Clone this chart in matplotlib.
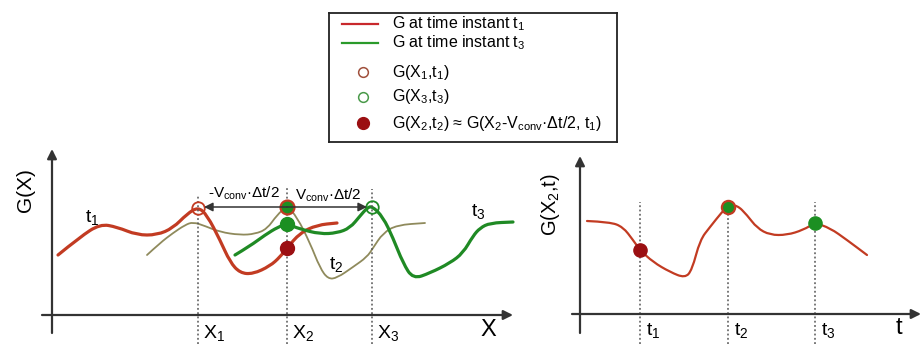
import matplotlib.pyplot as plt
from matplotlib.path import Path
from matplotlib.patches import PathPatch

plt.rcParams['font.family'] = ['Liberation Sans', 'DejaVu Sans']
plt.rcParams['mathtext.default'] = 'regular'

RED = '#c23b22'
GREEN = '#1f8a24'
OLIVE = '#8f8a5c'
DOT_RED = '#9b0f12'
DOT_GREEN = '#1c8f22'
AXIS = '#333333'

# G(X) snapshots, X measured from the axis origin
x_t1 = [6, 28, 48, 65, 85, 105, 121, 135, 146, 155, 168, 178, 188, 201, 218, 228, 235, 248, 265, 285]
g_t1 = [60, 78, 91, 88, 80, 80, 87, 101, 108, 100, 75, 53, 42, 41, 49, 58, 67, 82, 90, 92]

x_t2 = [95, 108, 121, 133, 141, 153, 168, 188, 203, 215, 225, 235, 245, 258, 268, 276, 285, 301, 315, 321, 331, 345, 373]
g_t2 = [60, 72, 82, 90, 93, 89, 83, 80, 81, 86, 100, 109, 98, 72, 47, 36, 37, 48, 58, 67, 82, 90, 92]

x_t3 = [183, 198, 213, 226, 235, 248, 268, 285, 298, 308, 315, 320, 331, 341, 351, 361, 378, 398, 411, 421, 428, 438, 461]
g_t3 = [60, 69, 80, 88, 91, 86, 81, 82, 87, 99, 107, 109, 98, 77, 52, 36, 42, 52, 62, 79, 87, 92, 93]

# sampling positions and sampled values
X1, X2, X3 = 146, 235, 320
g_x1_t1 = 107
g_x3_t3 = 108
g_x2_t2 = 108
g_x2_t3 = 91
g_x2_est = 67

# G at fixed X2 as a function of time
t_vals = [7, 30, 43, 53, 60, 73, 90, 105, 112, 120, 130, 142, 148, 157, 167, 177, 190, 207, 223, 235, 250, 267, 287]
g_x2_t = [93, 92, 87, 74, 64, 52, 42, 36, 44, 74, 87, 102, 108, 109, 99, 86, 79, 79, 84, 91, 86, 74, 59]
t_marks = [60, 148, 235]
g_marks = [64, 107, 91]

W, H = 923, 344
fig = plt.figure(figsize=(W / 100, H / 100), dpi=100)


def px_axes(x0, y0, x1, y1, ox, oy):
    """Axes over a pixel box, data origin placed at pixel (ox, oy)."""
    ax = fig.add_axes([x0 / W, 1 - y1 / H, (x1 - x0) / W, (y1 - y0) / H])
    ax.set_xlim(x0 - ox, x1 - ox)
    ax.set_ylim(oy - y1, oy - y0)
    ax.axis('off')
    return ax


def smooth_curve(ax, xs, ys, **kw):
    # quadratic Bezier through the midpoints, sample points as controls
    verts = [(xs[0], ys[0])]
    codes = [Path.MOVETO]
    for i in range(1, len(xs) - 1):
        verts += [(xs[i], ys[i]),
                  ((xs[i] + xs[i + 1]) / 2, (ys[i] + ys[i + 1]) / 2)]
        codes += [Path.CURVE3, Path.CURVE3]
    verts.append((xs[-1], ys[-1]))
    codes.append(Path.LINETO)
    ax.add_patch(PathPatch(Path(verts, codes), fill=False,
                           capstyle='round', joinstyle='round', **kw))


def axis_arrow(ax, start, end):
    ax.annotate('', xy=end, xytext=start, annotation_clip=False,
                arrowprops=dict(arrowstyle='-|>', lw=1.6, color=AXIS,
                                mutation_scale=14, shrinkA=0, shrinkB=0))


def vdot(ax, x, top, bottom):
    ax.plot([x, x], [bottom, top], color='#555555', lw=1.1,
            linestyle=(0, (1.2, 1.6)), clip_on=False)


# ---- left panel: G along X ----
ax = px_axes(0, 140, 540, 344, 52, 315)
axis_arrow(ax, (0, -18), (0, 166))
axis_arrow(ax, (-10, 0), (461, 0))

for xv, top in [(X1, 120), (X2, 128), (X3, 126)]:
    vdot(ax, xv, top, -29)

smooth_curve(ax, x_t2, g_t2, edgecolor=OLIVE, lw=1.3)
smooth_curve(ax, x_t1, g_t1, edgecolor=RED, lw=2.3)
smooth_curve(ax, x_t3, g_t3, edgecolor=GREEN, lw=2.3)

# convection shift arrows
for tip in [X1 + 6, X3 - 5]:
    ax.annotate('', xy=(tip, g_x2_t2), xytext=(X2, g_x2_t2),
                arrowprops=dict(arrowstyle='-|>', lw=1.1, color=AXIS,
                                mutation_scale=13, shrinkA=0, shrinkB=0))

ax.plot(X1, g_x1_t1, 'o', ms=9, mfc='none', mec=RED, mew=1.3)
ax.plot(X3, g_x3_t3, 'o', ms=9, mfc='none', mec=GREEN, mew=1.3)
ax.plot(X2, g_x2_t2, 'o', ms=10, mfc=DOT_GREEN, mec=RED, mew=1.6)
ax.plot(X2, g_x2_t3, 'o', ms=10, mfc=DOT_GREEN, mec=DOT_GREEN)
ax.plot(X2, g_x2_est, 'o', ms=10, mfc=DOT_RED, mec=DOT_RED)

ax.text(192, 122, r'-V$_{conv}$·Δt/2', fontsize=11, ha='center', va='center')
ax.text(276, 120, r'V$_{conv}$·Δt/2', fontsize=11, ha='center', va='center')
ax.text(40, 97, r't$_1$', fontsize=14, ha='center', va='center')
ax.text(284, 51, r't$_2$', fontsize=14, ha='center', va='center')
ax.text(426, 103, r't$_3$', fontsize=14, ha='center', va='center')
for xv, lab in [(X1, 'X$_1$'), (X2, 'X$_2$'), (X3, 'X$_3$')]:
    ax.text(xv + 5, -18, lab, fontsize=14, ha='left', va='center')
ax.text(436, -15, 'X', fontsize=17, ha='center', va='center')
ax.text(-26, 125, 'G(X)', fontsize=15, rotation=90, ha='center', va='center')

# ---- right panel: G at X2 over time ----
ax2 = px_axes(540, 140, 923, 344, 580, 314)
axis_arrow(ax2, (0, -19), (0, 158))
axis_arrow(ax2, (-8, 0), (341, 0))
for tv in t_marks:
    vdot(ax2, tv, 112, -30)

smooth_curve(ax2, t_vals, g_x2_t, edgecolor=RED, lw=1.6)
ax2.plot(t_marks[0], g_marks[0], 'o', ms=9.5, mfc=DOT_RED, mec=DOT_RED)
ax2.plot(t_marks[1], g_marks[1], 'o', ms=9.5, mfc=DOT_GREEN, mec=RED, mew=1.6)
ax2.plot(t_marks[2], g_marks[2], 'o', ms=9.5, mfc=DOT_GREEN, mec=DOT_GREEN)

for tv, lab in zip(t_marks, ['t$_1$', 't$_2$', 't$_3$']):
    ax2.text(tv + 6, -16, lab, fontsize=14, ha='left', va='center')
ax2.text(319, -14, 't', fontsize=17, ha='center', va='center')
ax2.text(-30, 109, 'G(X$_2$,t)', fontsize=14.5, rotation=90, ha='center', va='center')

# ---- legend box ----
lg = fig.add_axes([329 / W, 1 - 142 / H, 288 / W, 129 / H])
lg.set_xlim(0, 288)
lg.set_ylim(129, 0)
lg.set_xticks([])
lg.set_yticks([])
for s in lg.spines.values():
    s.set_linewidth(1.3)
    s.set_color('#222222')

lg.plot([13, 49], [11, 11], color='#c8282c', lw=1.6)
lg.plot([13, 49], [30, 30], color='#2a9a2a', lw=1.6)
lg.plot(34, 59, 'o', ms=7, mfc='none', mec='#a0503c', mew=1.1)
lg.plot(34, 84, 'o', ms=7, mfc='none', mec='#4a9a4a', mew=1.1)
lg.plot(34, 110, 'o', ms=8.5, mfc=DOT_RED, mec=DOT_RED)

labels = [
    (11, r'G at time instant t$_1$'),
    (30, r'G at time instant t$_3$'),
    (59, r'G(X$_1$,t$_1$)'),
    (84, r'G(X$_3$,t$_3$)'),
    (110, r'G(X$_2$,t$_2$) ≈ G(X$_2$-V$_{conv}$·Δt/2, t$_1$)'),
]
for yy, lab in labels:
    lg.text(63, yy, lab, fontsize=11.5, ha='left', va='center')

fig.savefig('out.png', dpi=100)
